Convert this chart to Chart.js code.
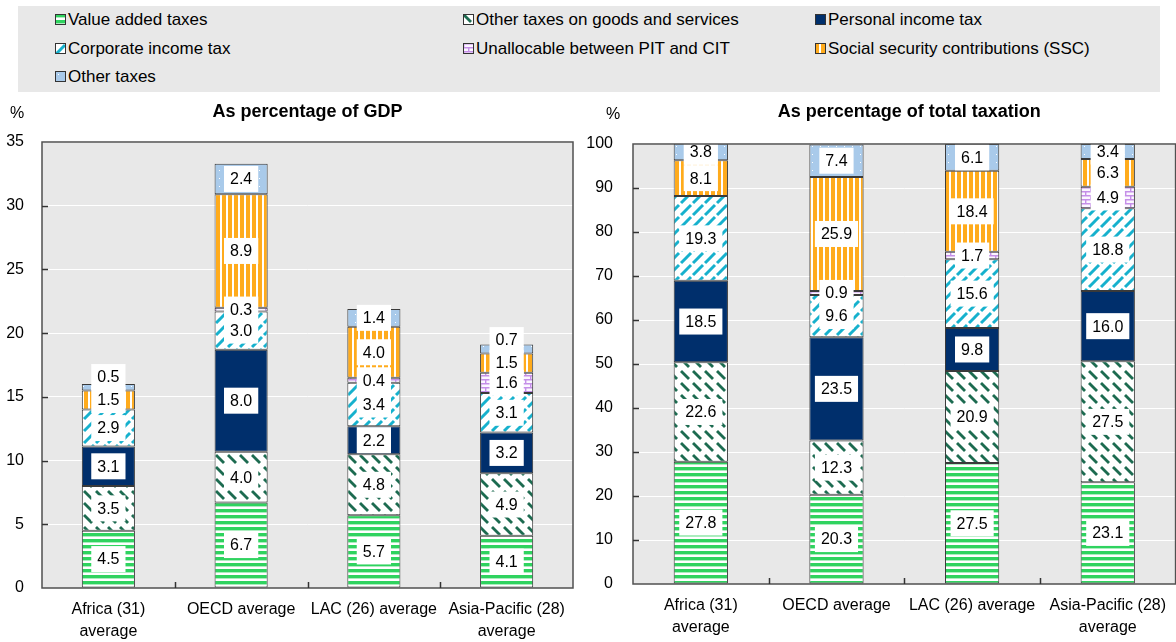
<!DOCTYPE html>
<html>
<head>
<meta charset="utf-8">
<script src="https://cdn.jsdelivr.net/npm/chart.js@4.4.1/dist/chart.umd.min.js"></script>
<style>
  html, body { margin:0; padding:0; background:#fff; overflow:hidden; }
  body { width:1176px; height:642px; position:relative; font-family:"Liberation Sans", Arial, sans-serif; }
  #legend { position:absolute; left:18px; top:6px; width:1142px; height:86px; background:#e8e8e8; }
  .item { position:absolute; height:20px; line-height:20px; font-size:17px; color:#000; white-space:nowrap; }
  .item canvas { position:absolute; left:0; top:4px; }
  .item span { position:absolute; left:13px; top:0; }
  #c1wrap { position:absolute; left:0; top:95px; width:595px; height:547px; }
  #c2wrap { position:absolute; left:585px; top:95px; width:591px; height:547px; }
</style>
</head>
<body>
<div id="legend"></div>
<div id="c1wrap"><canvas id="c1"></canvas></div>
<div id="c2wrap"><canvas id="c2"></canvas></div>
<script>
// ---------- data ----------
const categories = [['Africa (31)', 'average'], 'OECD average', 'LAC (26) average', ['Asia-Pacific (28)', 'average']];
const seriesNames = ['Value added taxes', 'Other taxes on goods and services', 'Personal income tax',
  'Corporate income tax', 'Unallocable between PIT and CIT', 'Social security contributions (SSC)', 'Other taxes'];

// As percentage of GDP
const gdpVAT      = [4.5, 6.7, 5.7, 4.1];
const gdpOtherGS  = [3.5, 4.0, 4.8, 4.9];
const gdpPIT      = [3.1, 8.0, 2.2, 3.2];
const gdpCIT      = [2.9, 3.0, 3.4, 3.1];
const gdpUnalloc  = [0,   0.3, 0.4, 1.6];
const gdpSSC      = [1.5, 8.9, 4.0, 1.5];
const gdpOther    = [0.5, 2.4, 1.4, 0.7];

// As percentage of total taxation
const totVAT      = [27.8, 20.3, 27.5, 23.1];
const totOtherGS  = [22.6, 12.3, 20.9, 27.5];
const totPIT      = [18.5, 23.5, 9.8, 16.0];
const totCIT      = [19.3, 9.6, 15.6, 18.8];
const totUnalloc  = [0,    0.9, 1.7, 4.9];
const totSSC      = [8.1, 25.9, 18.4, 6.3];
const totOther    = [3.8, 7.4, 6.1, 3.4];

const gdpTicks = { min: 0, max: 35, step: 5 };
const totTicks = { min: 0, max: 100, step: 10 };

// ---------- patterns ----------
const FONT = '"Liberation Sans", Arial, sans-serif';
function tile(w, h, draw) {
  const c = document.createElement('canvas'); c.width = w; c.height = h;
  const g = c.getContext('2d'); draw(g, w, h); return c;
}
const helper = document.createElement('canvas').getContext('2d');
function diag(g, w, h, color, lw, segs) {
  g.strokeStyle = color; g.lineWidth = lw; g.lineCap = 'butt';
  for (const dx of [-w, 0, w]) for (const dy of [-h, 0, h]) {
    for (const s of segs) {
      g.beginPath(); g.moveTo(s[0] + dx, s[1] + dy); g.lineTo(s[2] + dx, s[3] + dy); g.stroke();
    }
  }
}
const tiles = [
  tile(6, 6, (g) => { g.fillStyle = '#fff'; g.fillRect(0, 0, 6, 6); g.fillStyle = '#2fd35f'; g.fillRect(0, 0, 6, 3.4); }),
  tile(12, 12, (g, w, h) => { g.fillStyle = '#fff'; g.fillRect(0, 0, w, h); diag(g, w, h, '#1c6b50', 2.8, [[0, 0, 8, 8]]); }),
  tile(4, 4, (g) => { g.fillStyle = '#002f6c'; g.fillRect(0, 0, 4, 4); }),
  tile(12, 12, (g, w, h) => { g.fillStyle = '#fff'; g.fillRect(0, 0, w, h); diag(g, w, h, '#16b1cd', 3, [[0, 12, 10, 2]]); }),
  tile(10, 8, (g) => { g.fillStyle = '#fbf6ff'; g.fillRect(0, 0, 10, 8); g.strokeStyle = '#c58fe8'; g.lineWidth = 1.4;
    g.beginPath(); g.moveTo(0, 0.7); g.lineTo(10, 0.7); g.moveTo(0, 4.7); g.lineTo(10, 4.7);
    g.moveTo(0.7, 0); g.lineTo(0.7, 4.7); g.moveTo(5.7, 4.7); g.lineTo(5.7, 8); g.stroke(); }),
  tile(6, 2, (g) => { g.fillStyle = '#fff'; g.fillRect(0, 0, 6, 2); g.fillStyle = '#ffab1c'; g.fillRect(0, 0, 4, 2); }),
  tile(8, 8, (g) => { g.fillStyle = '#a9caea'; g.fillRect(0, 0, 8, 8); g.fillStyle = '#ffffff'; g.fillRect(3, 3, 1, 1); })
];
const patterns = tiles.map(t => helper.createPattern(t, 'repeat'));

// ---------- legend (HTML) ----------
const legendCols = [37, 445, 797];
const legendRows = [4, 33, 61];
const legendEl = document.getElementById('legend');
seriesNames.forEach((name, i) => {
  const d = document.createElement('div'); d.className = 'item';
  d.style.left = legendCols[i % 3] + 'px'; d.style.top = legendRows[Math.floor(i / 3)] + 'px';
  const c = document.createElement('canvas'); c.width = 11; c.height = 11;
  const g = c.getContext('2d'); g.fillStyle = helper.createPattern(tiles[i], 'repeat'); g.fillRect(0, 0, 11, 11);
  g.strokeStyle = '#333'; g.lineWidth = 1; g.strokeRect(0.5, 0.5, 10, 10);
  const s = document.createElement('span'); s.textContent = name;
  d.appendChild(c); d.appendChild(s); legendEl.appendChild(d);
});

// ---------- plugins ----------
const decor = {
  id: 'decor',
  beforeDraw(chart) {
    const a = chart.chartArea, ctx = chart.ctx;
    ctx.save(); ctx.fillStyle = '#e8e8e8'; ctx.fillRect(a.left, a.top, a.right - a.left, a.bottom - a.top); ctx.restore();
  },
  afterDraw(chart, args, opts) {
    const a = chart.chartArea, ctx = chart.ctx;
    ctx.save();
    ctx.strokeStyle = '#505050'; ctx.lineWidth = 1.5;
    ctx.strokeRect(a.left, a.top, a.right - a.left, a.bottom - a.top);
    const ys = chart.scales.y;
    ctx.lineWidth = 1.5; ctx.strokeStyle = '#333';
    ys.ticks.forEach(t => {
      if (t.value === ys.min || t.value === ys.max) return;
      const y = Math.round(ys.getPixelForValue(t.value)) + 0.5;
      ctx.beginPath(); ctx.moveTo(a.left, y); ctx.lineTo(a.left + 6, y); ctx.stroke();
    });
    const n = chart.data.labels.length, w = (a.right - a.left) / n;
    for (let i = 1; i < n; i++) {
      const x = Math.round(a.left + i * w) + 0.5;
      ctx.beginPath(); ctx.moveTo(x, a.bottom); ctx.lineTo(x, a.bottom - 6); ctx.stroke();
    }
    ctx.fillStyle = '#000'; ctx.textBaseline = 'middle';
    ctx.font = 'bold 18px ' + FONT; ctx.textAlign = 'center';
    ctx.fillText(opts.title, (a.left + a.right) / 2 + (opts.titleShift || 0), opts.titleY);
    ctx.font = '16px ' + FONT;
    ctx.fillText('%', opts.pctX, opts.pctY);
    ctx.restore();
  }
};

const segLabels = {
  id: 'segLabels',
  afterDatasetsDraw(chart) {
    const ctx = chart.ctx, n = chart.data.labels.length;
    ctx.save();
    ctx.font = '16px ' + FONT; ctx.textAlign = 'center'; ctx.textBaseline = 'middle';
    for (let i = 0; i < n; i++) {
      let prevY = Infinity;
      chart.data.datasets.forEach((ds, di) => {
        const v = ds.data[i];
        if (!v) return;
        const el = chart.getDatasetMeta(di).data[i];
        let y = (el.y + el.base) / 2;
        if (prevY - y < 17) y = prevY - 23;
        prevY = y;
        const txt = v.toFixed(1);
        const w = ctx.measureText(txt).width + 12, h = 26;
        ctx.fillStyle = '#fff'; ctx.fillRect(el.x - w / 2, y - h / 2, w, h);
        ctx.fillStyle = '#000'; ctx.fillText(txt, el.x, y + 1);
      });
    }
    ctx.restore();
  }
};

function makeChart(id, seriesData, tk, axisW, xH, padTop, padRight, labelPad, decorOpts) {
  const datasets = seriesData.map((d, i) => ({
    label: seriesNames[i], data: d, backgroundColor: patterns[i],
    borderColor: '#3a3a3a', borderWidth: 1, borderSkipped: false,
    barPercentage: 0.4, categoryPercentage: 1.0
  }));
  return new Chart(document.getElementById(id), {
    type: 'bar',
    data: { labels: categories, datasets },
    options: {
      responsive: true, maintainAspectRatio: false, animation: false,
      layout: { padding: { top: padTop, right: padRight, left: 0, bottom: 0 } },
      plugins: { legend: { display: false }, tooltip: { enabled: false }, decor: decorOpts },
      scales: {
        x: {
          stacked: true,
          grid: { display: false, drawTicks: false }, border: { display: false },
          ticks: { font: { size: 16, family: FONT, lineHeight: 1.4 }, color: '#000', padding: 10, maxRotation: 0, autoSkip: false },
          afterFit: s => { s.height = xH; }
        },
        y: {
          stacked: true, min: tk.min, max: tk.max,
          grid: { color: '#ffffff', lineWidth: 1, drawTicks: false }, border: { display: false },
          ticks: { stepSize: tk.step, font: { size: 16, family: FONT }, color: '#000', padding: labelPad },
          afterFit: s => { s.width = axisW; }
        }
      }
    },
    plugins: [decor, segLabels]
  });
}

makeChart('c1', [gdpVAT, gdpOtherGS, gdpPIT, gdpCIT, gdpUnalloc, gdpSSC, gdpOther], gdpTicks,
  42, 54, 47, 22, 18, { title: 'As percentage of GDP', titleY: 17, pctX: 17, pctY: 19 });
makeChart('c2', [totVAT, totOtherGS, totPIT, totCIT, totUnalloc, totSSC, totOther], totTicks,
  48, 58, 49, 0, 20, { title: 'As percentage of total taxation', titleY: 17, titleShift: 5, pctX: 28, pctY: 20 });
</script>
</body>
</html>
